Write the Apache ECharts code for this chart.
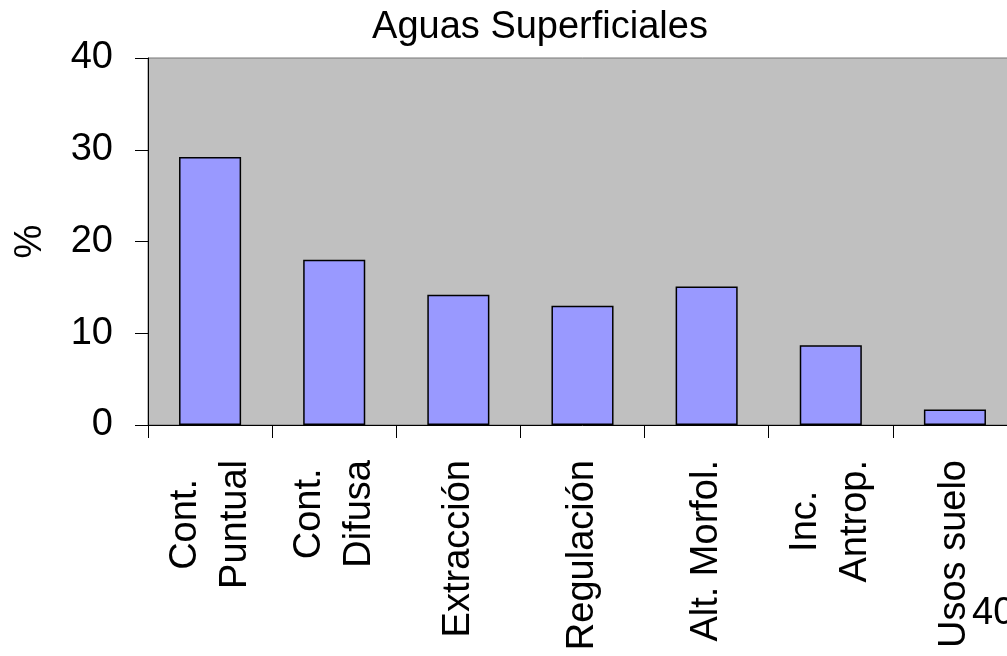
<!DOCTYPE html>
<html>
<head>
<meta charset="utf-8">
<script src="https://cdn.jsdelivr.net/npm/echarts@6/dist/echarts.min.js"></script>
<style>
  html, body { margin: 0; padding: 0; background: #fff; overflow: hidden; }
  /* plot runs past the right edge in the original, so the canvas is a bit wider than the window */
  #main { width: 1017px; height: 656px; }
</style>
</head>
<body>
<div id="main"></div>
<script>
var categories = ["Cont.\nPuntual", "Cont.\nDifusa", "Extracción", "Regulación", "Alt. Morfol.", "Inc.\nAntrop.", "Usos suelo"];
var values = [29.2, 18.0, 14.2, 13.0, 15.1, 8.7, 1.7];
var yTicks = [0, 10, 20, 30, 40];

var FONT = "'Liberation Sans', Arial, sans-serif";

var myChart = echarts.init(document.getElementById("main"));
var option = {
  backgroundColor: "#ffffff",
  animation: false,
  title: {
    text: "Aguas Superficiales",
    left: 535,
    top: 4,
    textAlign: "center",
    textStyle: { fontFamily: FONT, fontSize: 38, fontWeight: "normal", color: "#000" }
  },
  grid: {
    left: 148,
    top: 58,
    right: 0,
    bottom: 231,
    show: true,
    backgroundColor: "#c0c0c0",
    borderColor: "#777777",
    borderWidth: 1
  },
  xAxis: {
    type: "category",
    data: categories,
    axisLine: { lineStyle: { color: "#000", width: 1 } },
    axisTick: { show: true, length: 13, lineStyle: { color: "#000" } },
    axisLabel: {
      rotate: 90,
      margin: 35,
      interval: 0,
      fontFamily: FONT,
      fontSize: 38,
      color: "#000",
      formatter: function (v) {
        // each line centred in its block
        return v.split("\n").map(function (l) { return "{c|" + l + "}"; }).join("\n");
      },
      rich: {
        c: { align: "center", fontFamily: FONT, fontSize: 38, lineHeight: 50, color: "#000" }
      }
    }
  },
  yAxis: {
    type: "value",
    min: yTicks[0],
    max: yTicks[yTicks.length - 1],
    interval: 10,
    name: "%",
    nameLocation: "middle",
    nameGap: 98,
    nameRotate: 90,
    nameTextStyle: { fontFamily: FONT, fontSize: 38, color: "#000" },
    axisLine: { show: true, lineStyle: { color: "#000", width: 1 } },
    axisTick: { show: true, length: 13, lineStyle: { color: "#000" } },
    axisLabel: { margin: 35, fontFamily: FONT, fontSize: 38, color: "#000" },
    splitLine: { show: false }
  },
  series: [
    {
      type: "bar",
      data: values,
      barWidth: "50%",
      itemStyle: { color: "#9999ff", borderColor: "#000", borderWidth: 1.5 }
    }
  ],
  graphic: [
    {
      type: "text",
      style: {
        x: 972,
        y: 614,
        text: "40",
        fill: "#000",
        font: "38px " + FONT,
        textVerticalAlign: "middle"
      }
    }
  ]
};
myChart.setOption(option);
</script>
</body>
</html>
